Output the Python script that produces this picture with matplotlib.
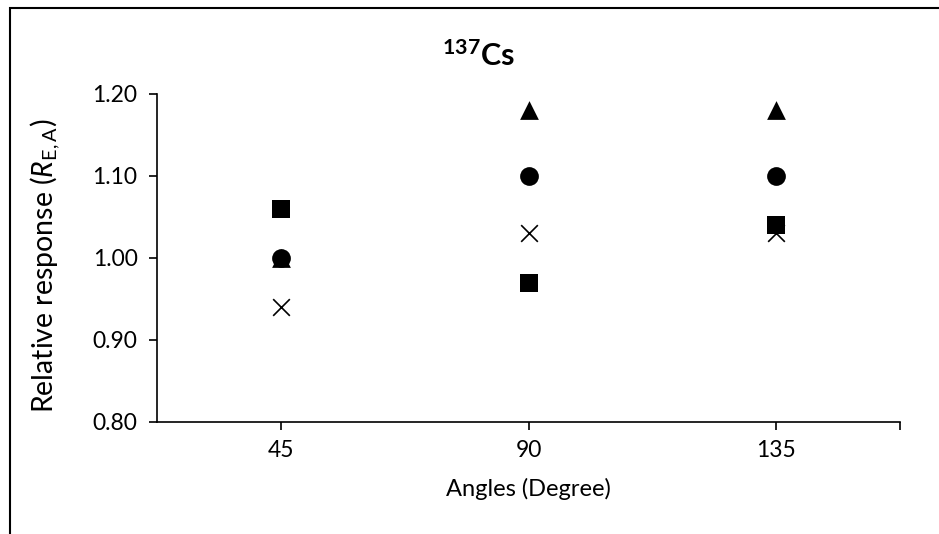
import matplotlib
matplotlib.use("Agg")
import matplotlib.pyplot as plt
from matplotlib.patches import Rectangle

FONT = "Lato"
plt.rcParams['font.family'] = [FONT, 'DejaVu Sans']
plt.rcParams['mathtext.fontset'] = 'custom'
plt.rcParams['mathtext.rm'] = FONT
plt.rcParams['mathtext.it'] = FONT + ':italic'
plt.rcParams['mathtext.bf'] = FONT + ':bold'

# Data
angles = [45, 90, 135]
tick_labels = ["45", "90", "135"]
series_triangle = [1.00, 1.18, 1.18]
series_cross = [0.94, 1.03, 1.03]
series_square = [1.06, 0.97, 1.04]
series_circle = [1.00, 1.10, 1.10]
y_ticks = [0.80, 0.90, 1.00, 1.10, 1.20]

W, H = 939, 534
fig = plt.figure(figsize=(W / 100, H / 100), dpi=100)
fig.patch.set_facecolor('white')

# outer chart border (left and top visible)
fig.patches.append(Rectangle((10 / W, -0.1), 1.2, (H - 8) / H + 0.1,
                             transform=fig.transFigure, fill=False,
                             edgecolor='black', linewidth=1.5, zorder=0))

left, right, top, bottom = 157, 900, 94, 422
ax = fig.add_axes([left / W, 1 - bottom / H, (right - left) / W, (bottom - top) / H])

ax.scatter(angles, series_triangle, marker='^', s=13.5 ** 2, color='black', linewidths=0, zorder=3)
ax.scatter(angles, series_cross, marker='x', s=12 ** 2, color='black', linewidths=1.2, zorder=3)
ax.scatter(angles, series_square, marker='s', s=13 ** 2, color='black', linewidths=0, zorder=3)
ax.scatter(angles, series_circle, marker='o', s=13.5 ** 2, color='black', linewidths=0, zorder=3)

ax.set_xlim(22.5, 157.5)
ax.set_ylim(0.80, 1.20)
ax.set_xticks(angles + [157.5])
ax.set_xticklabels(tick_labels + [""])
ax.set_yticks(y_ticks)
ax.set_yticklabels([f"{v:.2f}" for v in y_ticks])

for s in ['top', 'right']:
    ax.spines[s].set_visible(False)
for s in ['left', 'bottom']:
    ax.spines[s].set_linewidth(1.2)
    ax.spines[s].set_color('black')

ax.tick_params(axis='both', direction='out', length=6, width=1.2, colors='black', labelsize=16.5)
ax.tick_params(axis='y', pad=8)
ax.tick_params(axis='x', pad=7)

ax.set_xlabel("Angles (Degree)", fontsize=17, labelpad=12)
ax.set_ylabel(r"Relative response ($\mathit{R}_{\mathrm{E,A}}$)", fontsize=20.5, va='center')
ax.yaxis.set_label_coords((45 - left) / (right - left), (bottom - 266) / (bottom - top))

fig.text(478 / W, 1 - 56 / H, r"$^{\mathbf{137}}$Cs", fontsize=22, fontweight='bold',
         ha='center', va='center')

fig.savefig("out.png", dpi=100, facecolor='white')
